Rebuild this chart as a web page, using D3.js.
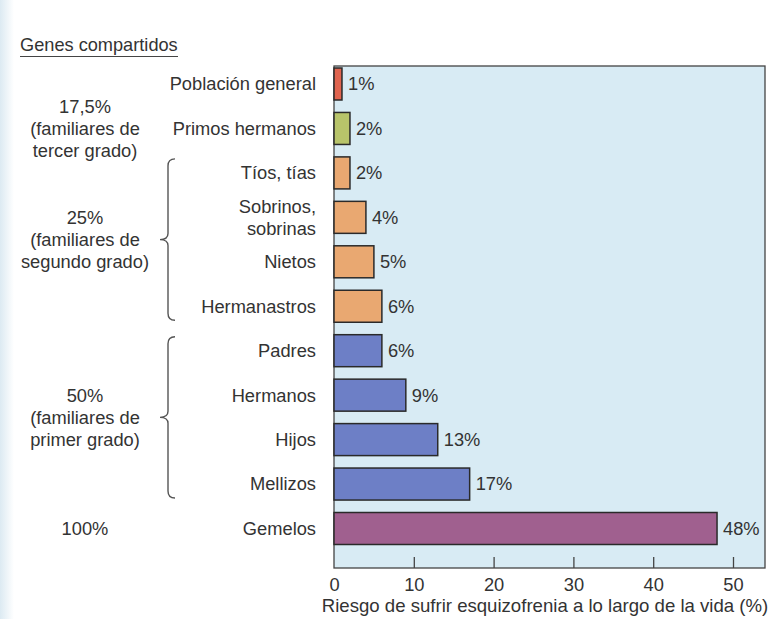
<!DOCTYPE html>
<html>
<head>
<meta charset="utf-8">
<script src="https://cdn.jsdelivr.net/npm/d3@7"></script>
<style>
  body { margin: 0; background: #fff; }
  text { font-family: "Liberation Sans", Arial, sans-serif; fill: #333; }
</style>
</head>
<body>
<div id="chart"></div>
<script>
// data
var categories = ["Población general", "Primos hermanos", "Tíos, tías", "Sobrinos,\nsobrinas", "Nietos",
                  "Hermanastros", "Padres", "Hermanos", "Hijos", "Mellizos", "Gemelos"];
var risk = [1, 2, 2, 4, 5, 6, 6, 9, 13, 17, 48];
var groupOf = ["general", "third", "second", "second", "second", "second", "first", "first", "first", "first", "twin"];
var xTicks = [0, 10, 20, 30, 40, 50];
var groupLabels = [
  { lines: ["17,5%", "(familiares de", "tercer grado)"], from: 1, to: 1, brace: false },
  { lines: ["25%", "(familiares de", "segundo grado)"], from: 2, to: 5, brace: true },
  { lines: ["50%", "(familiares de", "primer grado)"], from: 6, to: 9, brace: true },
  { lines: ["100%"], from: 10, to: 10, brace: false }
];

var colors = { general: "#e0644f", third: "#b8c46a", second: "#e9a871", first: "#6d7fc6", twin: "#a0608f" };

var width = 769, height = 619;
var plot = { left: 334, right: 765, top: 66, bottom: 568 };
var fs = 18.3;

var svg = d3.select("#chart").append("svg")
    .attr("width", width)
    .attr("height", height);

// faint scanned strip on the left edge
var grad = svg.append("defs").append("linearGradient").attr("id", "strip");
grad.append("stop").attr("offset", "0%").attr("stop-color", "#dceaf2");
grad.append("stop").attr("offset", "100%").attr("stop-color", "#ffffff");
svg.append("rect").attr("x", 0).attr("y", 0).attr("width", 14).attr("height", height).attr("fill", "url(#strip)");

var x = d3.scaleLinear().domain([0, 50]).range([plot.left, 733]);
var y = d3.scaleBand().domain(d3.range(categories.length)).range([68, 544.5]).paddingInner(0.28).paddingOuter(0);

// plot background
svg.append("rect")
    .attr("x", plot.left).attr("y", plot.top)
    .attr("width", plot.right - plot.left).attr("height", plot.bottom - plot.top)
    .attr("fill", "#d8ebf4")
    .attr("stroke", "#444").attr("stroke-width", 1.3);

// bars
svg.selectAll("rect.bar").data(risk).enter()
  .append("rect").attr("class", "bar")
    .attr("x", x(0))
    .attr("y", function(d, i) { return y(i); })
    .attr("width", function(d) { return x(d) - x(0); })
    .attr("height", y.bandwidth())
    .attr("fill", function(d, i) { return colors[groupOf[i]]; })
    .attr("stroke", "#2a2a2a").attr("stroke-width", 1.5);

// value labels
svg.selectAll("text.val").data(risk).enter()
  .append("text").attr("class", "val")
    .attr("x", function(d) { return x(d) + 6; })
    .attr("y", function(d, i) { return y(i) + y.bandwidth() / 2; })
    .attr("dy", "0.35em")
    .attr("font-size", fs)
    .text(function(d) { return d + "%"; });

// category labels
svg.selectAll("text.cat").data(categories).enter()
  .append("text").attr("class", "cat")
    .attr("text-anchor", "end")
    .attr("font-size", fs)
    .attr("y", function(d, i) { return y(i) + y.bandwidth() / 2; })
    .each(function(d) {
      var lines = d.split("\n");
      var t = d3.select(this);
      lines.forEach(function(l, k) {
        t.append("tspan").attr("x", 316)
          .attr("dy", k == 0 ? (0.35 - (lines.length - 1) * 0.6) + "em" : "1.2em")
          .text(l);
      });
    });

// x axis: ticks pointing up inside the plot
var xAxis = d3.axisBottom(x).tickValues(xTicks).tickSize(-11).tickPadding(7);
var ax = svg.append("g").attr("transform", "translate(0," + plot.bottom + ")").call(xAxis);
ax.select(".domain").remove();
ax.selectAll(".tick line").attr("stroke", "#444").attr("stroke-width", 1.3)
  .filter(function(d) { return d == 0; }).remove();
ax.selectAll(".tick text").attr("font-size", fs).attr("fill", "#333").attr("dy", "0.9em")
  .attr("font-family", "Liberation Sans, Arial, sans-serif");

svg.append("text")
    .attr("x", 545).attr("y", 612)
    .attr("text-anchor", "middle").attr("font-size", 18.6)
    .text("Riesgo de sufrir esquizofrenia a lo largo de la vida (%)");

// title
svg.append("text").attr("x", 20).attr("y", 51).attr("font-size", 18.2).text("Genes compartidos");
svg.append("line").attr("x1", 20).attr("x2", 178).attr("y1", 56.5).attr("y2", 56.5)
    .attr("stroke", "#444").attr("stroke-width", 1);

// group labels + braces
groupLabels.forEach(function(g) {
  var top = y(g.from), bot = y(g.to) + y.bandwidth();
  var mid = (top + bot) / 2;
  var n = g.lines.length;
  var t = svg.append("text").attr("text-anchor", "middle").attr("font-size", fs);
  g.lines.forEach(function(l, k) {
    t.append("tspan").attr("x", 85)
      .attr("y", mid - (n - 1) * 11 + k * 22)
      .attr("dy", "0.35em")
      .text(l);
  });
  if (g.brace) {
    var bx = 168, tip = 160, r = 7;
    var p = d3.path();
    p.moveTo(bx + 7, top + 2);
    p.quadraticCurveTo(bx, top + 2, bx, top + r + 2);
    p.lineTo(bx, mid - 6);
    p.quadraticCurveTo(bx, mid, tip, mid);
    p.quadraticCurveTo(bx, mid, bx, mid + 6);
    p.lineTo(bx, bot - r - 2);
    p.quadraticCurveTo(bx, bot - 2, bx + 7, bot - 2);
    svg.append("path").attr("d", p.toString())
      .attr("fill", "none").attr("stroke", "#555").attr("stroke-width", 1.4);
  }
});
</script>
</body>
</html>
